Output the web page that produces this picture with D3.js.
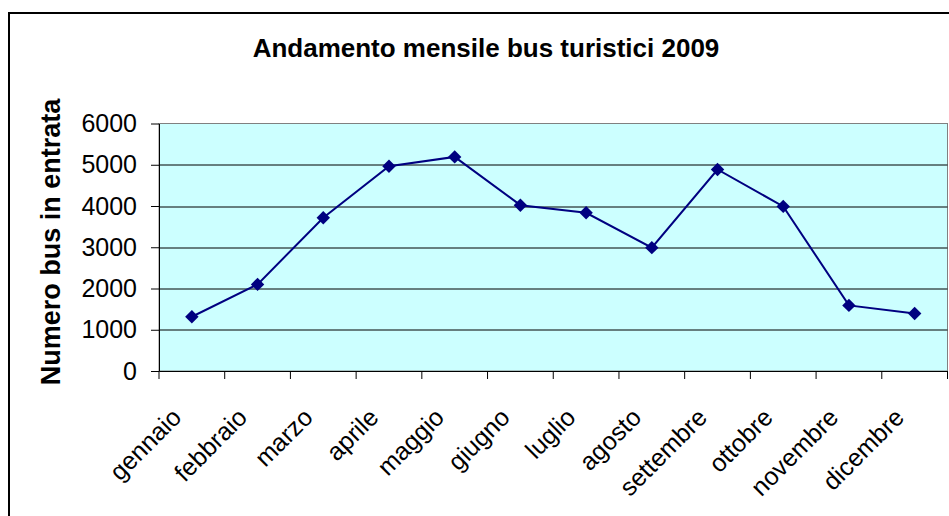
<!DOCTYPE html>
<html>
<head>
<meta charset="utf-8">
<script src="https://cdn.jsdelivr.net/npm/d3@7"></script>
<style>
  body { margin: 0; background: #fff; }
  svg { display: block; font-family: Arial, "Liberation Sans", sans-serif; }
</style>
</head>
<body>
<div id="chart"></div>
<script>
// === Data ===
const mesi = ["gennaio", "febbraio", "marzo", "aprile", "maggio", "giugno",
  "luglio", "agosto", "settembre", "ottobre", "novembre", "dicembre"];
const busEntrata = [1315, 2100, 3715, 4965, 5190, 4020, 3835, 2990, 4885, 3990, 1590, 1395];
const yTicks = [0, 1000, 2000, 3000, 4000, 5000, 6000];
const titolo = "Andamento mensile bus turistici 2009";
const titoloY = "Numero bus in entrata";

const W = 949, H = 516;
const margin = { top: 123.5, right: 1.5, bottom: 145, left: 159 };
const width = W - margin.left - margin.right;
const height = H - margin.top - margin.bottom;

const svg = d3.select("#chart").append("svg")
  .attr("width", W)
  .attr("height", H);

// outer chart border
svg.append("rect")
  .attr("x", 9).attr("y", 13)
  .attr("width", W + 20).attr("height", H + 20)
  .attr("fill", "#fff")
  .attr("stroke", "#000")
  .attr("stroke-width", 2);

svg.append("text")
  .attr("x", 486).attr("y", 57)
  .attr("text-anchor", "middle")
  .style("font-size", "26px")
  .style("font-weight", "bold")
  .text(titolo);

svg.append("text")
  .attr("transform", `translate(60, 242) rotate(-90)`)
  .attr("text-anchor", "middle")
  .style("font-size", "27px")
  .style("font-weight", "bold")
  .text(titoloY);

const g = svg.append("g")
  .attr("transform", `translate(${margin.left},${margin.top})`);

const x = d3.scaleBand().domain(mesi).range([0, width]);
const y = d3.scaleLinear().domain([0, 6000]).range([height, 0]);

// plot area
g.append("rect")
  .attr("width", width).attr("height", height)
  .attr("fill", "#ccffff")
  .attr("stroke", "#808080")
  .attr("stroke-width", 1);

// gridlines
g.selectAll(".grid")
  .data(yTicks.filter(d => d > 0 && d < 6000))
  .join("line")
  .attr("x1", 0).attr("x2", width)
  .attr("y1", d => Math.round(y(d)) + 0.5)
  .attr("y2", d => Math.round(y(d)) + 0.5)
  .attr("stroke", "#000")
  .attr("stroke-width", 1);

// y axis
const yAxis = g.append("g")
  .call(d3.axisLeft(y).tickValues(yTicks).tickFormat(d3.format("d"))
    .tickSize(8).tickPadding(14).tickSizeOuter(0));
yAxis.select(".domain").attr("stroke", "#000");
yAxis.selectAll("text").style("font-size", "25px").attr("fill", "#000");

// x axis (labels at band centers, ticks at band edges)
const xAxis = g.append("g")
  .attr("transform", `translate(0,${height})`)
  .call(d3.axisBottom(x).tickSize(0).tickSizeOuter(0));
xAxis.select(".domain").attr("stroke", "#000");
xAxis.selectAll("text")
  .attr("x", 0).attr("y", 0).attr("dy", null)
  .attr("text-anchor", "end")
  .attr("transform", "translate(-9,48) rotate(-45)")
  .style("font-size", "25px")
  .attr("fill", "#000");

g.append("g").selectAll("line")
  .data(mesi.map(m => x(m)).concat([width]))
  .join("line")
  .attr("x1", d => d).attr("x2", d => d)
  .attr("y1", height).attr("y2", height + 8)
  .attr("stroke", "#000");

// series
const cx = d => x(d.mese) + x.bandwidth() / 2;
const punti = mesi.map((m, i) => ({ mese: m, valore: busEntrata[i] }));

g.append("path")
  .datum(punti)
  .attr("fill", "none")
  .attr("stroke", "#000080")
  .attr("stroke-width", 2)
  .attr("d", d3.line().x(cx).y(d => y(d.valore)));

g.selectAll(".marker")
  .data(punti)
  .join("path")
  .attr("transform", d => `translate(${cx(d)},${y(d.valore)}) rotate(45)`)
  .attr("d", d3.symbol(d3.symbolSquare, 90))
  .attr("fill", "#000080");
</script>
</body>
</html>
